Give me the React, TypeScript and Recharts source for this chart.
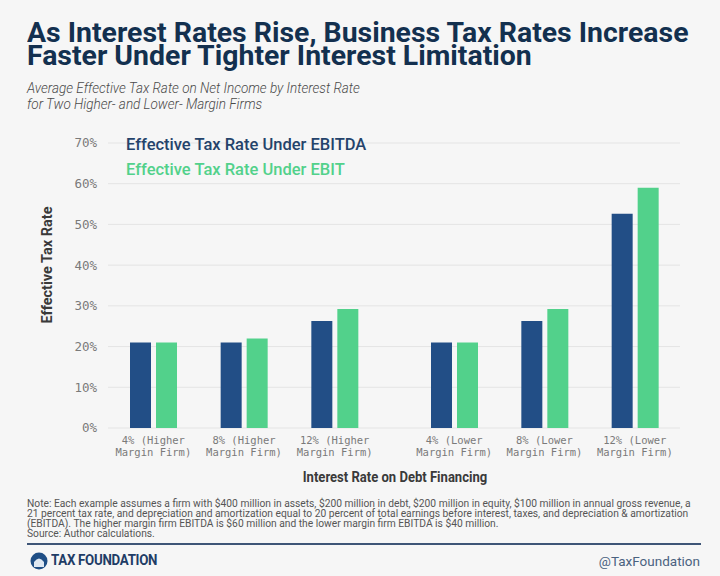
import React from 'react';
import { BarChart, Bar, XAxis, YAxis, CartesianGrid, Legend } from 'recharts';

// Effective tax rate (%) by interest rate, split by firm margin
const higherCategories = ['4% (Higher Margin Firm)', '8% (Higher Margin Firm)', '12% (Higher Margin Firm)'];
const higherEbitda = [21, 21, 26.3];
const higherEbit = [21, 22, 29.2];

const lowerCategories = ['4% (Lower Margin Firm)', '8% (Lower Margin Firm)', '12% (Lower Margin Firm)'];
const lowerEbitda = [21, 26.3, 52.6];
const lowerEbit = [21, 29.2, 59];

const yTicks = [0, 10, 20, 30, 40, 50, 60, 70];

const BLUE = '#224e86';
const GREEN = '#52d18b';
const NAVY = '#13304f';
const BG = '#f6f6f6';
const MONO = '"DejaVu Sans Mono", "Liberation Mono", monospace';
const SANS = 'Roboto, "Noto Sans", sans-serif';

const toRows = (cats: string[], a: number[], b: number[]) =>
  cats.map((name, i) => ({ name, ebitda: a[i], ebit: b[i] }));

const higherData = toRows(higherCategories, higherEbitda, higherEbit);
const lowerData = toRows(lowerCategories, lowerEbitda, lowerEbit);

const CHART_H = 340;
const PLOT_TOP = 13;
const PLOT_H = 285;
const X_AXIS_H = CHART_H - PLOT_TOP - PLOT_H;

// two-line category tick: "4% (Higher" / "Margin Firm)"
function CategoryTick(props: any) {
  const { x, y, payload } = props;
  const text: string = payload.value;
  const cut = text.indexOf(' Margin');
  const lines = cut > 0 ? [text.slice(0, cut), text.slice(cut + 1)] : [text];
  return (
    <text x={x} y={y + 8} textAnchor="middle" fill="#7a7a7a" fontFamily={MONO} fontSize={10.5}>
      {lines.map((l, i) => (
        <tspan key={i} x={x} dy={i === 0 ? 0 : 12}>
          {l}
        </tspan>
      ))}
    </text>
  );
}

const seriesOrder = ['ebitda', 'ebit'];

function LegendText({ payload }: any) {
  const items = [...(payload || [])].sort(
    (a: any, b: any) => seriesOrder.indexOf(a.dataKey) - seriesOrder.indexOf(b.dataKey),
  );
  return (
    <div style={{ fontFamily: SANS, fontWeight: 500, fontSize: 16.5, lineHeight: '25px', whiteSpace: 'nowrap' }}>
      {items.map((p: any) => (
        <div key={p.value} style={{ color: p.dataKey === 'ebitda' ? '#24436b' : p.color }}>
          {p.value}
        </div>
      ))}
    </div>
  );
}

const bars = [
  <Bar key="a" dataKey="ebitda" name="Effective Tax Rate Under EBITDA" fill={BLUE} isAnimationActive={false} />,
  <Bar key="b" dataKey="ebit" name="Effective Tax Rate Under EBIT" fill={GREEN} isAnimationActive={false} />,
];

export default function App() {
  return (
    <div style={{ position: 'absolute', left: 0, top: 0, width: 720, height: 576, background: BG, overflow: 'hidden', fontFamily: SANS }}>
      <div style={{ position: 'absolute', left: 27, top: 21, color: NAVY, fontWeight: 700, fontSize: 28, lineHeight: '23px', transform: 'scaleX(1.015)', transformOrigin: 'left', whiteSpace: 'nowrap' }}>
        <div>As Interest Rates Rise, Business Tax Rates Increase</div>
        <div>Faster Under Tighter Interest Limitation</div>
      </div>
      <div style={{ position: 'absolute', left: 27, top: 81, color: '#4a4a4a', fontStyle: 'italic', fontWeight: 300, fontSize: 15, lineHeight: '15.5px', transform: 'scaleX(0.9)', transformOrigin: 'left', whiteSpace: 'nowrap' }}>
        <div>Average Effective Tax Rate on Net Income by Interest Rate</div>
        <div>for Two Higher- and Lower- Margin Firms</div>
      </div>

      <div style={{ position: 'absolute', left: 47, top: 265, transform: 'translate(-50%, -50%) rotate(-90deg)', fontWeight: 700, fontSize: 14.5, color: '#3a3a3a', whiteSpace: 'nowrap' }}>
        Effective Tax Rate
      </div>

      <div style={{ position: 'absolute', left: 0, top: 130 }}>
        <BarChart width={394} height={CHART_H} data={higherData} margin={{ top: PLOT_TOP, right: 0, bottom: 0, left: 0 }} barSize={21} barGap={5}>
          <CartesianGrid vertical={false} stroke="#e4e4e4" />
          <XAxis dataKey="name" height={X_AXIS_H} axisLine={false} tickLine={false} interval={0} padding={{ left: 0, right: 14 }} tick={<CategoryTick />} />
          <YAxis width={108} domain={[0, 70]} ticks={yTicks} axisLine={false} tickLine={false} tickMargin={5} tickFormatter={(v) => `${v}%`} tick={{ fill: '#7a7a7a', fontFamily: MONO, fontSize: 12.5 }} />
          <Legend layout="vertical" align="center" verticalAlign="middle" wrapperStyle={{ left: 126, top: 2, width: 'auto' }} content={<LegendText />} />
          {bars}
        </BarChart>
      </div>
      <div style={{ position: 'absolute', left: 394, top: 130 }}>
        <BarChart width={286} height={CHART_H} data={lowerData} margin={{ top: PLOT_TOP, right: 0, bottom: 0, left: 0 }} barSize={21} barGap={5}>
          <CartesianGrid vertical={false} stroke="#e4e4e4" />
          <XAxis dataKey="name" height={X_AXIS_H} axisLine={false} tickLine={false} interval={0} padding={{ left: 15, right: 0 }} tick={<CategoryTick />} />
          <YAxis hide width={0} domain={[0, 70]} ticks={yTicks} />
          {bars}
        </BarChart>
      </div>

      <div style={{ position: 'absolute', left: 395, top: 477, transform: 'translate(-50%, -50%) scaleX(0.9)', fontWeight: 700, fontSize: 14.5, color: '#3a3a3a', whiteSpace: 'nowrap' }}>
        Interest Rate on Debt Financing
      </div>

      <div style={{ position: 'absolute', left: 27, top: 499, color: '#555', fontSize: 10, lineHeight: '10px', transform: 'scaleX(1.025)', transformOrigin: 'left', whiteSpace: 'nowrap' }}>
        <div>Note: Each example assumes a firm with $400 million in assets, $200 million in debt, $200 million in equity, $100 million in annual gross revenue, a</div>
        <div>21 percent tax rate, and depreciation and amortization equal to 20 percent of total earnings before interest, taxes, and depreciation &amp; amortization</div>
        <div>(EBITDA). The higher margin firm EBITDA is $60 million and the lower margin firm EBITDA is $40 million.</div>
        <div>Source: Author calculations.</div>
      </div>

      <div style={{ position: 'absolute', left: 27, top: 543, width: 674, height: 2, background: '#3e5577' }} />

      <svg style={{ position: 'absolute', left: 30, top: 552 }} width={18} height={18}>
        <circle cx={9} cy={9} r={8.5} fill="#1f4e85" />
        <path d="M4 15 L4 10 Q9 3 14 10 L14 15 Z" fill="#dfe8f2" />
      </svg>
      <div style={{ position: 'absolute', left: 51, top: 552, color: '#1f3d66', fontWeight: 700, fontSize: 14, transform: 'scaleX(0.95)', transformOrigin: 'left', whiteSpace: 'nowrap', letterSpacing: -0.3 }}>
        TAX FOUNDATION
      </div>
      <div style={{ position: 'absolute', right: 20, top: 553, color: '#4a6280', fontSize: 13.5, whiteSpace: 'nowrap' }}>
        @TaxFoundation
      </div>
    </div>
  );
}
